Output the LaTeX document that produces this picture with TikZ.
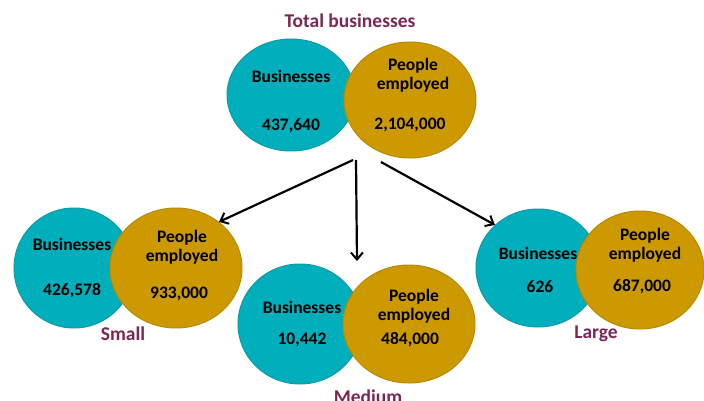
\documentclass[tikz,border=0pt]{standalone}
\usepackage{fontspec}
\setmainfont{Carlito}
\usetikzlibrary{shapes.geometric,arrows.meta}
\definecolor{tealc}{HTML}{00AFBB}
\definecolor{tealedge}{HTML}{0C9AA5}
\definecolor{goldc}{HTML}{CC9900}
\definecolor{goldedge}{HTML}{B88A00}
\definecolor{maroon}{HTML}{7A2756}
\begin{document}
\begin{tikzpicture}[x=1pt,y=-1pt,
  tealell/.style={ellipse,fill=tealc,draw=tealedge,line width=1pt,inner sep=0pt},
  goldell/.style={ellipse,fill=goldc,draw=goldedge,line width=1pt,inner sep=0pt},
  lbl/.style={font=\bfseries\fontsize{17.5}{19}\selectfont,text=black,align=center,inner sep=0pt},
  grouplbl/.style={font=\bfseries\fontsize{19.5}{21}\selectfont,text=maroon,inner sep=0pt},
  arr/.style={-{Straight Barb[length=7pt,width=12pt,line width=2pt]},line width=2.2pt,black}]
\useasboundingbox (0,0) rectangle (704,401);
% Total
\node[grouplbl] (ttitle) at (350,21) {Total businesses};
\node[tealell,minimum width=128pt,minimum height=112pt] (tT) at (291,95) {};
\node[goldell,minimum width=132pt,minimum height=116pt] (tG) at (410,100) {};
\node[lbl] (tTb) at (291,76) {Businesses};
\node[lbl] (tTn) at (291,126) {437,640};
\node[lbl] (tGb) at (413,75) {People\\employed};
\node[lbl] (tGn) at (410,125) {2,104,000};
% Small
\node[tealell,minimum width=120pt,minimum height=120pt] (sT) at (74,268) {};
\node[goldell,minimum width=132pt,minimum height=120pt] (sG) at (176,268) {};
\node[lbl] (sTb) at (72,244) {Businesses};
\node[lbl] (sTn) at (72,291) {426,578};
\node[lbl] (sGb) at (182,247) {People\\employed};
\node[lbl] (sGn) at (179,294) {933,000};
\node[grouplbl] (slbl) at (123,334) {Small};
% Medium
\node[tealell,minimum width=124pt,minimum height=120pt] (mT) at (300,324) {};
\node[goldell,minimum width=132pt,minimum height=118pt] (mG) at (409,324) {};
\node[lbl] (mTb) at (302,307) {Businesses};
\node[lbl] (mTn) at (302,340) {10,442};
\node[lbl] (mGb) at (414,306) {People\\employed};
\node[lbl] (mGn) at (410,340) {484,000};
\node[grouplbl] (mlbl) at (368,397) {Medium};
% Large
\node[tealell,minimum width=124pt,minimum height=118pt] (lT) at (538,268) {};
\node[goldell,minimum width=128pt,minimum height=118pt] (lG) at (640,270) {};
\node[lbl] (lTb) at (538,253) {Businesses};
\node[lbl] (lTn) at (540,287) {626};
\node[lbl] (lGb) at (645,245) {People\\employed};
\node[lbl] (lGn) at (642,287) {687,000};
\node[grouplbl] (llbl) at (596,334) {Large};
% arrows
\coordinate (a1) at (353,160);
\coordinate (a2) at (356,160);
\coordinate (a3) at (381,162);
\coordinate (m2) at (357,261);
\draw[arr] (a1) -- (sG.47);
\draw[arr] (a2) -- (m2);
\draw[arr] (a3) -- (lT.135);
\end{tikzpicture}
\end{document}
